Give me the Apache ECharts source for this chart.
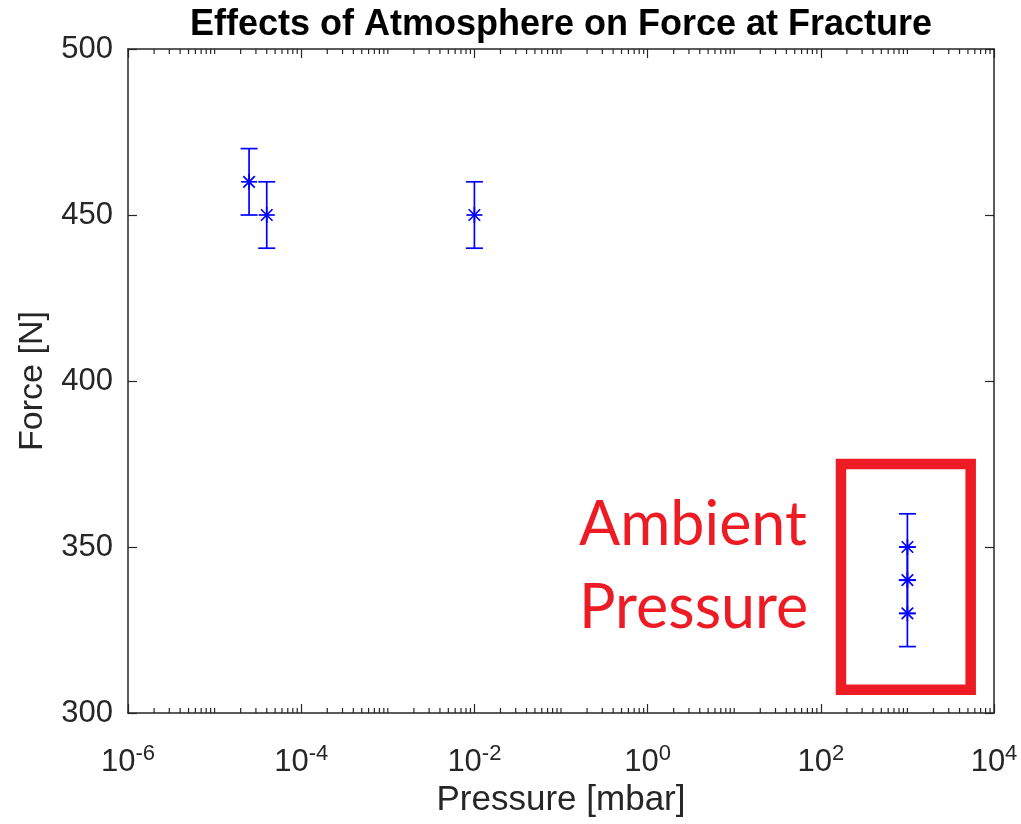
<!DOCTYPE html>
<html>
<head>
<meta charset="utf-8">
<title>Effects of Atmosphere on Force at Fracture</title>
<script src="https://cdn.jsdelivr.net/npm/echarts@6/dist/echarts.min.js"></script>
<style>
  html, body { margin: 0; padding: 0; background: #fff; }
  #chart { width: 1021px; height: 824px; }
</style>
</head>
<body>
<div id="chart"></div>
<script>
// values
const pressure = [2.5e-5, 4e-5, 1e-2, 1000, 1000, 1000]; // mbar
const force = [460, 450, 450, 350, 340, 330];             // N
const forceErr = [10, 10, 10, 10, 10, 10];

// axis ticks
const xTickExp = [-6, -4, -2, 0, 2, 4];
const yTicks = [300, 350, 400, 450, 500];
const decades = [-6, -5, -4, -3, -2, -1, 0, 1, 2, 3];
const minorSteps = [2, 3, 4, 5, 6, 7, 8, 9];

// red "Ambient Pressure" box (data space)
const boxPressure = [171, 5380];
const boxForce = [307, 375];

const axisColor = '#262626';
const blue = '#0000ff';
const red = '#ed1c24';

// minor ticks of the log axis (odd decades are minor here too)
const minorTicks = [];
decades.forEach((d) => {
  if (d % 2 !== 0) minorTicks.push([d]);
  minorSteps.forEach((k) => minorTicks.push([d + Math.log10(k)]));
});

const points = pressure.map((p, i) => [Math.log10(p), force[i], forceErr[i]]);

const chart = echarts.init(document.getElementById('chart'));

const xAxisBase = {
  type: 'value',
  min: xTickExp[0],
  max: xTickExp[xTickExp.length - 1],
  interval: 2,
  splitLine: { show: false },
  axisLine: { show: true, onZero: false, lineStyle: { color: axisColor, width: 1.5 } },
  axisTick: { show: true, inside: true, length: 9, lineStyle: { color: axisColor, width: 1.2 } },
};
const yAxisBase = {
  type: 'value',
  min: yTicks[0],
  max: yTicks[yTicks.length - 1],
  interval: 50,
  splitLine: { show: false },
  axisLine: { show: true, onZero: false, lineStyle: { color: axisColor, width: 1.5 } },
  axisTick: { show: true, inside: true, length: 9, lineStyle: { color: axisColor, width: 1.2 } },
};

chart.setOption({
  animation: false,
  backgroundColor: '#ffffff',
  title: {
    text: 'Effects of Atmosphere on Force at Fracture',
    left: 556,
    textAlign: 'center',
    top: 2,
    textStyle: { fontFamily: 'Liberation Sans', fontSize: 36, fontWeight: 'bold', color: '#000' },
  },
  grid: { left: 128, right: 27, top: 49, bottom: 111 },
  xAxis: [
    Object.assign({}, xAxisBase, {
      position: 'bottom',
      name: 'Pressure [mbar]',
      nameLocation: 'middle',
      nameGap: 70,
      nameTextStyle: { fontFamily: 'Liberation Sans', fontSize: 35, color: axisColor },
      axisLabel: {
        margin: 30,
        showMinLabel: true,
        showMaxLabel: true,
        formatter: (v) => `{b|10}{e|${v}}`,
        rich: {
          b: { fontFamily: 'Liberation Sans', fontSize: 31, color: axisColor },
          e: { fontFamily: 'Liberation Sans', fontSize: 22, color: axisColor, padding: [0, 0, 16, 0] },
        },
      },
    }),
    Object.assign({}, xAxisBase, { position: 'top', axisLabel: { show: false } }),
  ],
  yAxis: [
    Object.assign({}, yAxisBase, {
      position: 'left',
      name: 'Force [N]',
      nameLocation: 'middle',
      nameGap: 78,
      nameTextStyle: { fontFamily: 'Liberation Sans', fontSize: 34, color: axisColor },
      axisLabel: { margin: 15, fontFamily: 'Liberation Sans', fontSize: 31, color: axisColor },
    }),
    Object.assign({}, yAxisBase, { position: 'right', axisLabel: { show: false } }),
  ],
  graphic: [
    {
      type: 'text',
      left: 579,
      top: 484,
      silent: true,
      style: {
        text: 'Ambient\nPressure',
        font: '61px Lato',
        lineHeight: 83,
        fill: red,
      },
    },
  ],
  series: [
    {
      name: 'minor ticks',
      type: 'custom',
      silent: true,
      xAxisIndex: 0,
      yAxisIndex: 0,
      data: minorTicks,
      renderItem: (params, api) => {
        const x = api.value(0);
        const b = api.coord([x, yTicks[0]]);
        const t = api.coord([x, yTicks[yTicks.length - 1]]);
        const st = { stroke: axisColor, lineWidth: 1.2 };
        return {
          type: 'group',
          children: [
            { type: 'line', shape: { x1: b[0], y1: b[1], x2: b[0], y2: b[1] - 5 }, style: st },
            { type: 'line', shape: { x1: t[0], y1: t[1], x2: t[0], y2: t[1] + 5 }, style: st },
          ],
        };
      },
    },
    {
      name: 'Force',
      type: 'custom',
      xAxisIndex: 0,
      yAxisIndex: 0,
      data: points,
      renderItem: (params, api) => {
        const x = api.value(0);
        const y = api.value(1);
        const e = api.value(2);
        const c = api.coord([x, y]);
        const hi = api.coord([x, y + e]);
        const lo = api.coord([x, y - e]);
        const cap = 8.5;
        const r = 8;
        const d = r * 0.72;
        const st = { stroke: blue, lineWidth: 1.7 };
        const seg = (x1, y1, x2, y2) => ({ type: 'line', shape: { x1, y1, x2, y2 }, style: st });
        return {
          type: 'group',
          children: [
            seg(c[0], hi[1], c[0], lo[1]),
            seg(c[0] - cap, hi[1], c[0] + cap, hi[1]),
            seg(c[0] - cap, lo[1], c[0] + cap, lo[1]),
            seg(c[0] - r, c[1], c[0] + r, c[1]),
            seg(c[0], c[1] - r, c[0], c[1] + r),
            seg(c[0] - d, c[1] - d, c[0] + d, c[1] + d),
            seg(c[0] - d, c[1] + d, c[0] + d, c[1] - d),
          ],
        };
      },
      markArea: {
        silent: true,
        label: { show: false },
        itemStyle: { color: 'rgba(0,0,0,0)', borderColor: red, borderWidth: 10.5 },
        data: [[
          { coord: [Math.log10(boxPressure[0]), boxForce[0]] },
          { coord: [Math.log10(boxPressure[1]), boxForce[1]] },
        ]],
      },
    },
  ],
});
</script>
</body>
</html>
